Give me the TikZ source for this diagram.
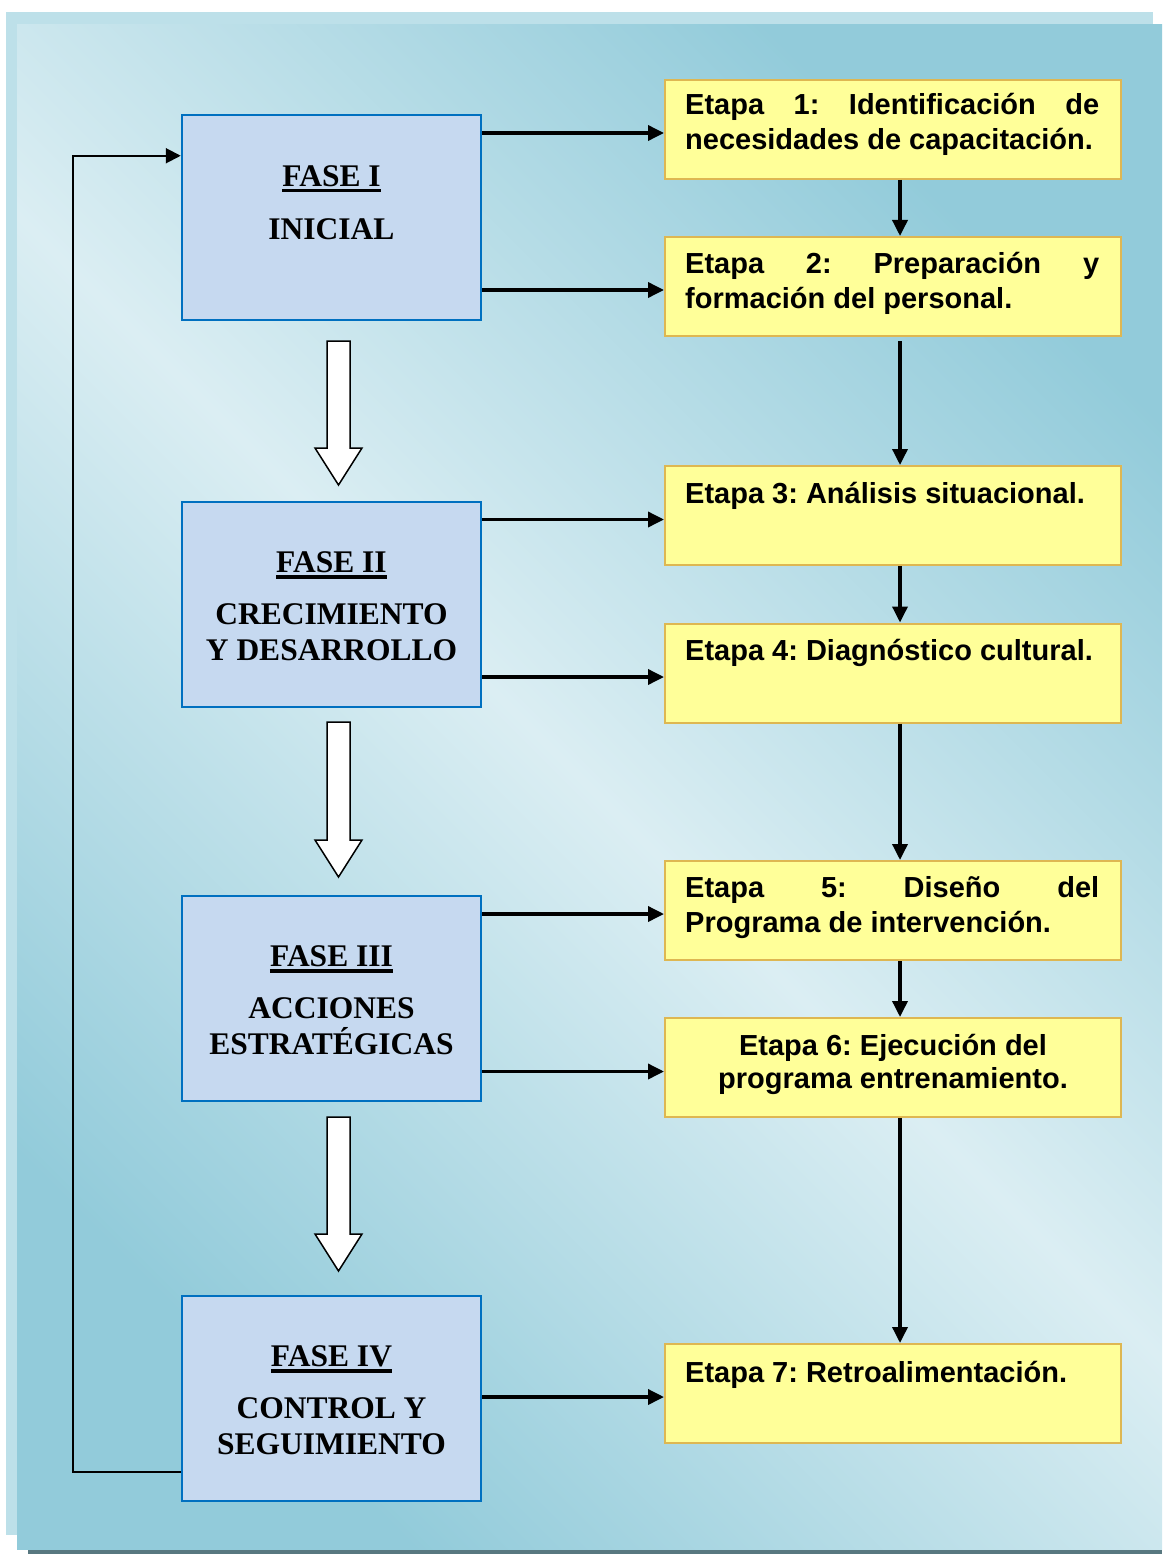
\documentclass[tikz,border=0pt]{standalone}
\usepackage{fontspec}
\setmainfont{Liberation Serif}
\newfontfamily\arialfont{Liberation Sans}
\usetikzlibrary{arrows.meta}
\frenchspacing
\definecolor{bgdark}{RGB}{146,203,218}
\definecolor{bglight}{RGB}{219,238,243}
\definecolor{bgshadow}{RGB}{189,224,233}
\definecolor{bgbar}{RGB}{88,120,128}
\definecolor{fasefill}{RGB}{198,217,240}
\definecolor{faseline}{RGB}{0,112,192}
\definecolor{etapafill}{RGB}{255,255,153}
\definecolor{etapaline}{RGB}{222,183,82}
\begin{document}
\begin{tikzpicture}[x=1pt,y=-1pt,
 fasebox/.style={draw=faseline, fill=fasefill, line width=2.5pt, minimum width=299pt, minimum height=205pt, inner sep=0pt},
 etapabox/.style={draw=etapaline, fill=etapafill, line width=2pt, minimum width=456pt, minimum height=99pt, inner sep=0pt},
 fasetext/.style={font=\bfseries\frenchspacing\fontsize{31.5}{36}\selectfont, inner sep=0pt, anchor=base},
 etapatext/.style={font=\arialfont\bfseries\frenchspacing\fontsize{29}{35}\selectfont, inner sep=0pt, anchor=base west},
 conn/.style={line width=3.5pt, -{Triangle[length=16pt,width=15pt]}},
 loopline/.style={line width=2pt, -{Triangle[length=15pt,width=15pt]}},
 uline/.style={line width=3.5pt},
 blockarrow/.style={draw=black, fill=white, line width=1.5pt, line join=miter}
]
\useasboundingbox (0,0) rectangle (1162,1554);
\fill[white] (0,0) rectangle (1162,1554);
% background frame
\fill[bgshadow] (6,12) rectangle (1153,1535);
\fill[bgbar] (28,1549) rectangle (1162,1554);
\shade[top color=bgdark, bottom color=bgdark, middle color=bglight, shading angle=-45] (17,25) rectangle (1162,1549);

% fase boxes
\node[fasebox] (f1) at (331.5,217.5) {};
\node[fasebox] (f2) at (331.5,604.5) {};
\node[fasebox] (f3) at (331.5,998.5) {};
\node[fasebox] (f4) at (331.5,1398.5) {};

% fase texts
\node[fasetext] (f1a) at ([yshift=-73pt]f1.north) {FASE I};
\node[fasetext] (f1b) at ([yshift=-126pt]f1.north) {INICIAL};
\node[fasetext] (f2a) at ([yshift=-72pt]f2.north) {FASE II};
\node[fasetext] (f2b) at ([yshift=-124pt]f2.north) {\parbox[t]{296pt}{\centering CRECIMIENTO\\Y DESARROLLO}};
\node[fasetext] (f3a) at ([yshift=-72pt]f3.north) {FASE III};
\node[fasetext] (f3b) at ([yshift=-124pt]f3.north) {\parbox[t]{296pt}{\centering ACCIONES\\ESTRATÉGICAS}};
\node[fasetext] (f4a) at ([yshift=-72pt]f4.north) {FASE IV};
\node[fasetext] (f4b) at ([yshift=-124pt]f4.north) {\parbox[t]{296pt}{\centering CONTROL Y\\SEGUIMIENTO}};
\foreach \t in {f1a,f2a,f3a,f4a}{
  \draw[uline] ([yshift=-4pt]\t.base west) -- ([yshift=-4pt]\t.base east);
}

% etapa boxes
\node[etapabox] (e1) at (893,129.5) {};
\node[etapabox] (e2) at (893,286.5) {};
\node[etapabox] (e3) at (893,515.5) {};
\node[etapabox] (e4) at (893,673) {};
\node[etapabox] (e5) at (893,910.5) {};
\node[etapabox] (e6) at (893,1067.5) {};
\node[etapabox] (e7) at (893,1393.5) {};

% etapa texts
\node[etapatext] (e1t) at ([xshift=21pt,yshift=-36pt]e1.north west)
  {\parbox[t]{414pt}{\makebox[414pt][s]{Etapa 1: Identificación de}\\necesidades de capacitación.}};
\node[etapatext] (e2t) at ([xshift=21pt,yshift=-37pt]e2.north west)
  {\parbox[t]{414pt}{\makebox[414pt][s]{Etapa 2: Preparación y}\\formación del personal.}};
\node[etapatext] (e3t) at ([xshift=21pt,yshift=-38pt]e3.north west) {Etapa 3: Análisis situacional.};
\node[etapatext] (e4t) at ([xshift=21pt,yshift=-38pt]e4.north west) {Etapa 4: Diagnóstico cultural.};
\node[etapatext] (e5t) at ([xshift=21pt,yshift=-37pt]e5.north west)
  {\parbox[t]{414pt}{\makebox[414pt][s]{Etapa 5: Diseño del}\\Programa de intervención.}};
\node[inner sep=0pt, anchor=base, font=\arialfont\bfseries\frenchspacing\fontsize{29}{33}\selectfont] (e6t) at ([yshift=-38pt]e6.north)
  {\parbox[t]{430pt}{\centering Etapa 6: Ejecución del\\programa entrenamiento.}};
\node[etapatext] (e7t) at ([xshift=21pt,yshift=-39pt]e7.north west) {Etapa 7: Retroalimentación.};

% fase -> etapa arrows
\draw[conn] ([yshift=-3.5pt]f1.east |- e1.west) -- ([yshift=-3.5pt]e1.west);
\draw[conn] ([yshift=-3.5pt]f1.east |- e2.west) -- ([yshift=-3.5pt]e2.west);
\draw[conn] ([yshift=-4pt]f2.east |- e3.west) -- ([yshift=-4pt]e3.west);
\draw[conn] ([yshift=-4pt]f2.east |- e4.west) -- ([yshift=-4pt]e4.west);
\draw[conn] ([yshift=-3.5pt]f3.east |- e5.west) -- ([yshift=-3.5pt]e5.west);
\draw[conn] ([yshift=-4pt]f3.east |- e6.west) -- ([yshift=-4pt]e6.west);
\draw[conn] ([yshift=-3.5pt]f4.east |- e7.west) -- ([yshift=-3.5pt]e7.west);

% etapa chain
\draw[conn] ([xshift=7pt]e1.south) -- ([xshift=7pt]e2.north);
\draw[conn] ([xshift=7pt,yshift=-4pt]e2.south) -- ([xshift=7pt]e3.north);
\draw[conn] ([xshift=7pt]e3.south) -- ([xshift=7pt]e4.north);
\draw[conn] ([xshift=7pt]e4.south) -- ([xshift=7pt]e5.north);
\draw[conn] ([xshift=7pt]e5.south) -- ([xshift=7pt]e6.north);
\draw[conn] ([xshift=7pt]e6.south) -- ([xshift=7pt]e7.north);

% feedback loop
\draw[loopline] ([yshift=30pt]f4.south west) -- ++(-108,0) |- ([yshift=-42pt]f1.north west);

% hollow block arrows
\draw[blockarrow] (327,341) -- (350,341) -- (350,448) -- (362,448) -- (338.5,485) -- (315,448) -- (327,448) -- cycle;
\draw[blockarrow] (327,722) -- (350,722) -- (350,840) -- (362,840) -- (338.5,877) -- (315,840) -- (327,840) -- cycle;
\draw[blockarrow] (327,1117) -- (350,1117) -- (350,1234) -- (362,1234) -- (338.5,1271) -- (315,1234) -- (327,1234) -- cycle;
\end{tikzpicture}
\end{document}
